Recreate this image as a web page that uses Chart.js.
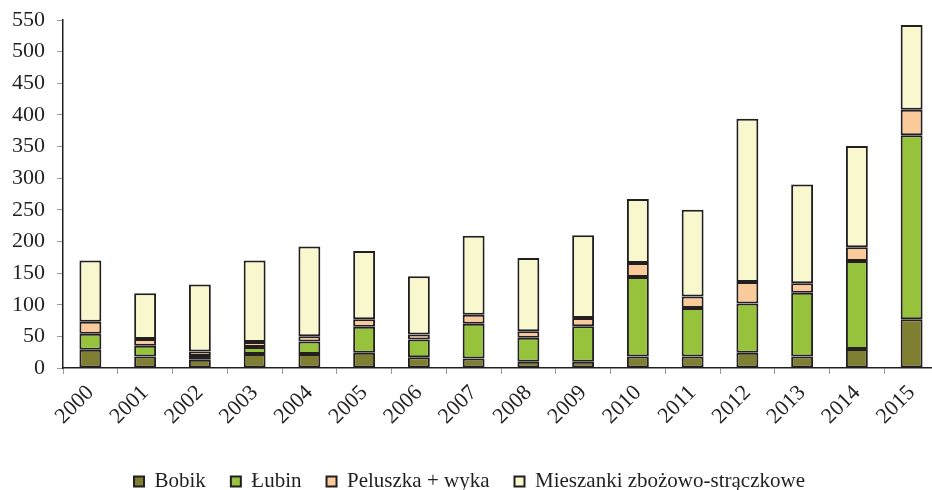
<!DOCTYPE html>
<html>
<head>
<meta charset="utf-8">
<script src="https://cdn.jsdelivr.net/npm/chart.js@4.4.0/dist/chart.umd.min.js"></script>
<style>
  html, body { margin: 0; padding: 0; overflow: hidden; background: #fff; }
  #wrap { width: 940px; height: 502px; }
</style>
</head>
<body>
<div id="wrap"><canvas id="chart"></canvas></div>
<script>
var years = ['2000','2001','2002','2003','2004','2005','2006','2007','2008','2009','2010','2011','2012','2013','2014','2015'];
var bobik = [29, 18, 13, 22, 22, 24, 17, 15, 10, 10, 18, 18, 24, 18, 30, 77];
var lubin = [25, 17, 6, 11, 20, 41, 28, 55, 38, 56, 126, 77, 78, 101, 139, 291];
var peluszka = [19, 11, 7, 8, 8, 12, 8, 14, 10, 13, 22, 18, 34, 15, 22, 40];
var mieszanki = [97, 72, 106, 129, 142, 108, 92, 125, 116, 131, 101, 137, 258, 156, 160, 134];
var yTicks = [0, 50, 100, 150, 200, 250, 300, 350, 400, 450, 500, 550];

var ink = '#231f20';
var serif = "'Liberation Serif', 'DejaVu Serif', serif";

function series(label, data, color) {
    return {
        label: label,
        data: data,
        backgroundColor: color,
        borderColor: ink,
        borderWidth: 2,
        borderSkipped: false,
        barPercentage: 0.4,
        categoryPercentage: 1
    };
}

var ctx = document.getElementById('chart').getContext('2d');
var chart = new Chart(ctx, {
    type: 'bar',
    data: {
        labels: years,
        datasets: [
            series('Bobik', bobik, '#7f7f31'),
            series('Łubin', lubin, '#96c33b'),
            series('Peluszka + wyka', peluszka, '#fbca9b'),
            series('Mieszanki zbożowo-strączkowe', mieszanki, '#f9f7cd')
        ]
    },
    options: {
        responsive: true,
        maintainAspectRatio: false,
        animation: false,
        layout: { padding: { top: 20, right: 1, left: 0, bottom: 0 } },
        plugins: {
            tooltip: { enabled: false },
            legend: {
                position: 'bottom',
                labels: {
                    color: ink,
                    font: { family: serif, size: 21 },
                    boxWidth: 10,
                    boxHeight: 10,
                    padding: 25
                }
            }
        },
        scales: {
            x: {
                stacked: true,
                grid: { display: true, drawOnChartArea: false, offset: true, tickLength: 6, color: '#999' },
                border: { color: ink, width: 1.5 },
                ticks: {
                    color: ink,
                    font: { family: serif, size: 22 },
                    minRotation: 45,
                    maxRotation: 45,
                    padding: 6
                },
                afterFit: function(scale) { scale.height = 78; }
            },
            y: {
                stacked: true,
                min: 0,
                max: 550,
                afterBuildTicks: function(scale) {
                    scale.ticks = yTicks.map(function(v) { return { value: v }; });
                },
                grid: { display: true, drawOnChartArea: false, tickLength: 6, color: '#999' },
                border: { color: ink, width: 1.5 },
                ticks: {
                    color: ink,
                    font: { family: serif, size: 22 },
                    padding: 12
                },
                afterFit: function(scale) {
                    scale.width = 63;
                    scale.paddingTop = 0;
                    scale.paddingBottom = 0;
                }
            }
        }
    }
});
</script>
</body>
</html>
